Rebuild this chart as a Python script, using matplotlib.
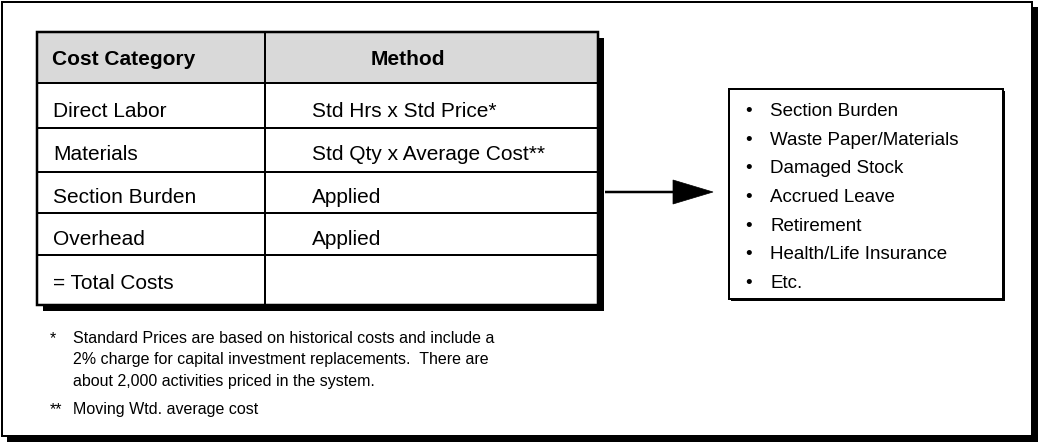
import matplotlib
matplotlib.use("Agg")
import matplotlib.pyplot as plt
from matplotlib.patches import Rectangle, Polygon

# ---- content ----
headers = ["Cost Category", "Method"]
categories = ["Direct Labor", "Materials", "Section Burden", "Overhead", "= Total Costs"]
methods = ["Std Hrs x Std Price*", "Std Qty x Average Cost**", "Applied", "Applied", ""]
burden_items = ["Section Burden", "Waste Paper/Materials", "Damaged Stock",
                "Accrued Leave", "Retirement", "Health/Life Insurance", "Etc."]
footnote_marks = ["*", "**"]
footnote_lines = [
    ["Standard Prices are based on historical costs and include a",
     "2% charge for capital investment replacements.  There are",
     "about 2,000 activities priced in the system."],
    ["Moving Wtd. average cost"],
]

W, H = 1038, 442
plt.rcParams['font.family'] = ['Liberation Sans', 'DejaVu Sans']
fig = plt.figure(figsize=(W / 100, H / 100), dpi=100)
ax = fig.add_axes([0, 0, 1, 1])
ax.set_xlim(0, W)
ax.set_ylim(H, 0)
ax.axis('off')

PX = 72 / 100  # points per pixel

def rect(x0, y0, x1, y1, fc='none', ec='black', lw_px=2, z=1):
    ax.add_patch(Rectangle((x0, y0), x1 - x0, y1 - y0, facecolor=fc,
                           edgecolor=ec, linewidth=lw_px * PX, zorder=z))

def hline(x0, x1, y, lw_px=2, z=3):
    ax.plot([x0, x1], [y, y], color='black', lw=lw_px * PX, zorder=z,
            solid_capstyle='butt')

def vline(x, y0, y1, lw_px=2, z=3):
    ax.plot([x, x], [y0, y1], color='black', lw=lw_px * PX, zorder=z,
            solid_capstyle='butt')

def cap_text(x, yc, s, size, **kw):
    # place text so that capital letters are vertically centred on yc
    cap = 0.716 * size / PX
    ax.text(x, yc + cap / 2, s, fontsize=size, va='baseline', zorder=5, **kw)

# ---- outer frame with shadow ----
rect(7, 7, 1038, 442, fc='black', ec='none', lw_px=0, z=0)
rect(2, 2, 1032, 436, fc='white', ec='black', lw_px=2, z=0.5)

# ---- table ----
tx0, tx1, tcol = 37, 598, 265
row_edges = [32, 83, 128, 172, 213, 255, 305]
rect(tx0 + 6, row_edges[0] + 6, tx1 + 6, row_edges[-1] + 6, fc='black', ec='none', lw_px=0, z=1)
rect(tx0, row_edges[0], tx1, row_edges[-1], fc='white', ec='none', lw_px=0, z=1.5)
rect(tx0, row_edges[0], tx1, row_edges[1], fc='#d9d9d9', ec='none', lw_px=0, z=2)
for y in row_edges[1:-1]:
    hline(tx0, tx1, y, lw_px=2)
vline(tcol, row_edges[0], row_edges[-1], lw_px=2)
rect(tx0, row_edges[0], tx1, row_edges[-1], fc='none', ec='black', lw_px=2.5, z=4)

FS = 15
cap_text(52, 58, headers[0], FS, fontweight='bold', ha='left')
cap_text(408, 58, headers[1], FS, fontweight='bold', ha='center')
text_offsets = [4, 3, 3, 4, 2]
for i, (c, m) in enumerate(zip(categories, methods)):
    yc = (row_edges[i + 1] + row_edges[i + 2]) / 2 + text_offsets[i]
    cap_text(53, yc, c, FS, ha='left')
    if m:
        cap_text(312, yc, m, FS, ha='left')

# ---- arrow ----
hline(605, 676, 192, lw_px=2.5)
ax.add_patch(Polygon([(673, 180), (713, 192), (673, 204)], closed=True,
                     facecolor='black', edgecolor='black', lw=0.5, zorder=4))

# ---- burden box ----
bx0, bx1, by0, by1 = 729, 1003, 89, 299
rect(bx0 + 2, by0 + 2, bx1 + 2, by1 + 2, fc='black', ec='none', lw_px=0, z=1)
rect(bx0, by0, bx1, by1, fc='white', ec='black', lw_px=2, z=2)
FSB = 13.5
for i, item in enumerate(burden_items):
    yc = 109.5 + i * 28.6
    cap_text(749, yc, "\u2022", FSB, ha='center')
    cap_text(770, yc, item, FSB, ha='left')

# ---- footnotes ----
FSF = 11.5
fn_y = [337, 408]
for mark, lines, y in zip(footnote_marks, footnote_lines, fn_y):
    cap_text(50, y, mark, FSF, ha='left')
    for j, ln in enumerate(lines):
        cap_text(73, y + j * 21.5, ln, FSF, ha='left')

fig.savefig("out.png", dpi=100)
